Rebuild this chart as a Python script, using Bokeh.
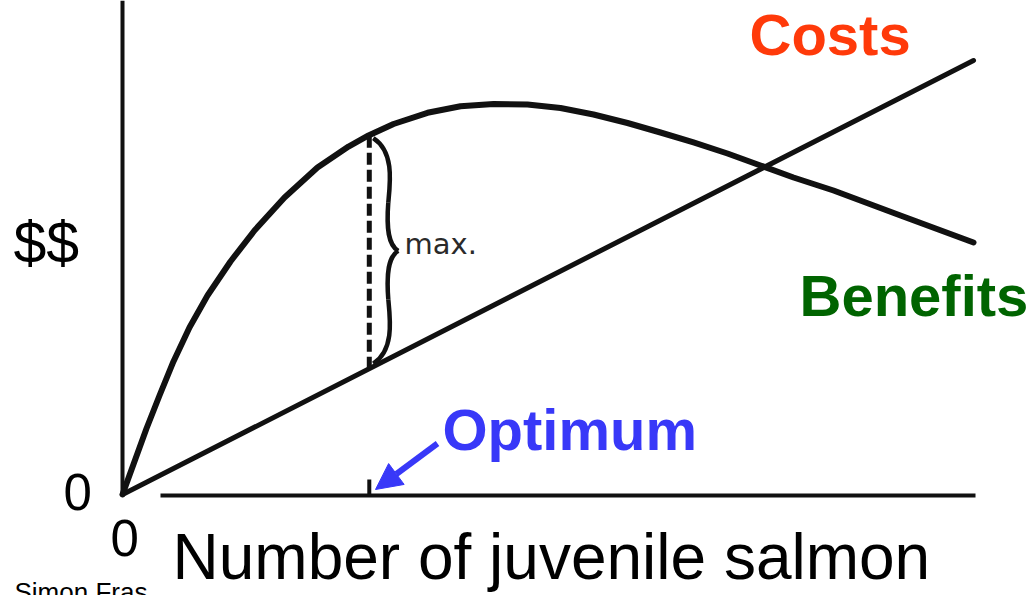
import numpy as np
from bokeh.plotting import figure
from bokeh.models import Range1d, Label, Arrow, NormalHead
from bokeh.embed import file_html
from bokeh.resources import INLINE

# ---------------- data ----------------
salmon = [0, 1.41, 2.82, 4.35, 5.99, 7.87, 9.99, 12.69, 15.51, 19.04, 22.91,
          26.56, 28.91, 31.85, 35.84, 39.72, 43.60, 47.59, 51.47, 55.35, 59.34,
          63.22, 67.10, 71.09, 74.97, 78.85, 83.55, 91.42, 100.0]
benefits = [0, 7.60, 15.21, 22.81, 30.65, 38.48, 45.85, 53.69, 60.83, 68.43,
            75.35, 80.18, 82.72, 85.37, 87.95, 89.47, 90.00, 89.86, 89.06,
            87.56, 85.60, 83.41, 81.11, 78.57, 75.81, 73.04, 70.05, 64.29, 58.06]
cost_x = [0, 100]
cost_y = [0, 100]
optimum = 29
x_tick_labels = ["0"]
y_tick_labels = ["0"]

# ---------------- geometry helpers ----------------
W, H = 1032, 595
SX, SY = 8.51, 4.34          # pixels per data unit
OX, OY = 122, 494            # origin position on the canvas (px)
XS, XE = -OX / SX, (W - OX) / SX
YE, YS = OY / SY, -(H - OY) / SY


def px(dxp):
    return dxp / SX


def py(dyp):
    return dyp / SY


def at(page_x, page_y):
    return (page_x - OX) / SX, (OY - page_y) / SY


p = figure(width=W, height=H, x_range=Range1d(XS, XE), y_range=Range1d(YS, YE),
           output_backend="svg", toolbar_location=None, min_border=0,
           x_axis_type=None, y_axis_type=None, outline_line_color=None,
           background_fill_color="white", border_fill_color="white")
p.grid.visible = False

INK = "#111111"
BLUE = "#3838F8"

# axes
p.line([0, 0], [0, YE], line_width=4, color=INK)
p.line([px(38), cost_x[-1] + px(2)], [-py(1), -py(1)], line_width=4, color=INK)

# costs line and benefits curve
p.line(cost_x, cost_y, line_width=5, color=INK, line_cap="round")
p.line(salmon, benefits, line_width=6, color=INK, line_join="round", line_cap="round")

# optimum: dashed gap and tick
y_lo = float(np.interp(optimum, cost_x, cost_y))
y_hi = float(np.interp(optimum, salmon, benefits))
p.line([optimum, optimum], [y_lo, y_hi], line_width=5, color=INK, line_dash="12 5")
p.line([optimum, optimum], [0, py(15)], line_width=4, color=INK)

# brace
top = y_hi - py(3)
bot = y_lo + py(5)
mid = (top + bot) / 2
Hh = top - mid
x0 = optimum
bx0 = [x0 + px(4), x0 + px(19), x0 + px(29), x0 + px(19)]
by0 = [top, top - 0.57 * Hh, mid, mid - 0.43 * Hh]
bx1 = [x0 + px(19), x0 + px(29), x0 + px(19), x0 + px(4)]
by1 = [top - 0.57 * Hh, mid, mid - 0.43 * Hh, bot]
bcx0 = [x0 + px(25), x0 + px(17), x0 + px(19), x0 + px(21)]
bcy0 = [top - 0.12 * Hh, top - 0.8 * Hh, mid - 0.05 * Hh, mid - 0.61 * Hh]
bcx1 = [x0 + px(21), x0 + px(19), x0 + px(17), x0 + px(25)]
bcy1 = [top - 0.39 * Hh, mid + 0.05 * Hh, mid - 0.2 * Hh, bot + 0.12 * Hh]
p.bezier(x0=bx0, y0=by0, x1=bx1, y1=by1, cx0=bcx0, cy0=bcy0, cx1=bcx1, cy1=bcy1,
         line_width=4.5, color=INK)

# arrow to optimum
ax0, ay0 = at(437, 443)
ax1, ay1 = at(375, 489)
p.add_layout(Arrow(end=NormalHead(size=26, fill_color=BLUE, line_color=BLUE, line_width=1),
                   x_start=ax0, y_start=ay0, x_end=ax1, y_end=ay1,
                   line_color=BLUE, line_width=6))


def label(text, page_x, page_y, size, color="black", bold=False, font="Liberation Sans"):
    # page_y is the wanted baseline; the renderer draws ~0.4em lower
    x, y = at(page_x, page_y - 0.4 * size)
    p.add_layout(Label(x=x, y=y, text=text, text_font=font,
                       text_font_size=f"{size}px",
                       text_font_style="bold" if bold else "normal",
                       text_color=color, text_baseline="alphabetic",
                       text_align="left"))


label("Costs", 749, 57, 58, "#FF3A0A", bold=True)
label("Benefits", 799, 318, 58, "#006400", bold=True)
label("Optimum", 442, 452, 58, BLUE, bold=True)
label("max.", 404, 255, 29, "#2a2a2a", font="DejaVu Sans")
label("$$", 13, 266, 59)
label(y_tick_labels[0], 63, 512, 51)
label(x_tick_labels[0], 110, 558, 51)
label("Number of juvenile salmon", 172, 582, 64)
label("Simon Fras", 14, 602, 26)

open("out.html", "w").write(file_html(p, INLINE))
